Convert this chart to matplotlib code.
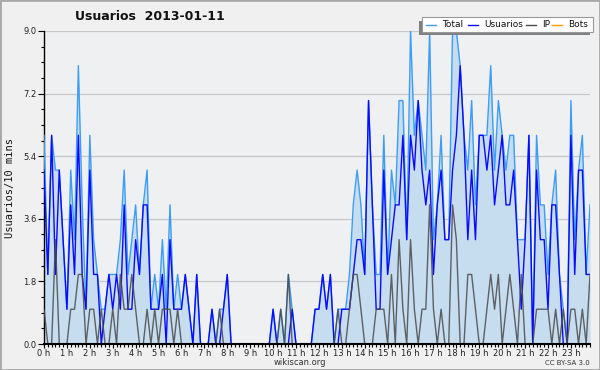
import matplotlib
matplotlib.use("Agg")
import matplotlib.pyplot as plt
from matplotlib.ticker import MultipleLocator, FixedLocator
from matplotlib.patches import Rectangle
from matplotlib.lines import Line2D
import numpy as np

# 10-minute slots over the day (144 points)
total = [6,2,6,5,5,3,1,5,3,8,4,1,
         6,3,2,1,1,2,2,2,3,5,2,3,
         4,2,4,5,1,2,1,3,1,4,1,2,
         1,2,1,0,2,0,0,0,1,0,1,1,
         2,0,0,0,0,0,0,0,0,0,0,0,
         1,0,1,0,2,1,0,0,0,0,0,1,
         1,2,1,2,0,1,1,1,2,4,5,4,
         2,7,4,2,2,6,2,5,4,7,7,3,
         9,6,7,6,5,9,3,4,6,3,3,9,
         9,8,6,5,7,4,6,6,6,8,5,7,
         6,5,6,6,3,3,3,6,0,6,4,4,
         2,4,5,2,1,0,7,3,5,6,2,4]
usuarios = [5,2,6,2,5,3,1,4,2,6,2,1,
            5,2,2,0,1,2,1,2,1,4,1,1,
            3,2,4,4,1,1,1,2,0,3,1,1,
            1,2,1,0,2,0,0,0,1,0,0,1,
            2,0,0,0,0,0,0,0,0,0,0,0,
            1,0,0,0,0,1,0,0,0,0,0,1,
            1,2,1,2,0,0,1,1,1,2,3,3,
            2,7,4,1,1,5,2,3,4,4,6,3,
            6,5,7,5,4,5,2,4,5,3,3,5,
            6,8,6,3,5,3,6,6,5,6,4,5,
            6,4,4,5,3,1,3,6,0,5,3,3,
            1,4,4,2,0,0,6,2,5,5,2,2]
ip = [1,0,0,3,0,0,0,1,1,2,2,0,
      1,1,0,1,0,0,1,0,2,1,1,2,
      1,0,0,1,0,1,0,1,1,1,0,1,
      0,0,0,0,0,0,0,0,0,0,1,0,
      0,0,0,0,0,0,0,0,0,0,0,0,
      0,0,1,0,2,0,0,0,0,0,0,0,
      0,0,0,0,0,1,0,0,1,2,2,1,
      0,0,0,1,1,1,0,2,0,3,1,0,
      3,1,0,1,1,4,1,0,1,0,0,4,
      3,0,0,2,2,1,0,0,1,2,1,2,
      0,1,2,1,0,2,0,0,0,1,1,1,
      1,0,1,0,1,0,1,1,0,1,0,2]
bots = [0] * 144
hours = np.arange(144) / 6.0

y_ticks = [0.0, 1.8, 3.6, 5.4, 7.2, 9.0]
x_ticks = list(range(24))
x_labels = [f"{h} h" for h in x_ticks]
legend_labels = ["Total", "Usuarios", "IP", "Bots"]

W, H = 600, 370
fig = plt.figure(figsize=(W / 100, H / 100), dpi=100, facecolor="#f0f0f0")

def fx(px):
    return px / W

def fy(py):
    return 1 - py / H

ax = fig.add_axes([fx(44), fy(344), fx(590) - fx(44), fy(31) - fy(344)])
ax.set_facecolor("#eef0f2")

c_total = "#3d9df5"
c_usr = "#0a0aff"
c_ip = "#4a4a4a"
c_bots = "#ff9900"

ax.fill_between(hours, total, 0, color="#c6dcef", lw=0, zorder=1)
ax.plot(hours, total, color=c_total, lw=1.0, zorder=3)
ax.plot(hours, usuarios, color=c_usr, lw=1.0, zorder=4)
ax.plot(hours, ip, color=c_ip, lw=1.0, zorder=5, alpha=0.85)
ax.plot(hours, bots, color=c_bots, lw=1.0, zorder=2)

ax.set_xlim(0, 143 / 6)
ax.set_ylim(0, 9.0)

ax.yaxis.set_major_locator(FixedLocator(y_ticks))
ax.set_yticklabels([f"{v:.1f}" for v in y_ticks])
ax.yaxis.set_minor_locator(MultipleLocator(0.45))
ax.xaxis.set_major_locator(FixedLocator(x_ticks))
ax.set_xticklabels(x_labels)
ax.xaxis.set_minor_locator(MultipleLocator(1 / 6))

ax.grid(axis="y", which="major", color="#c8c8c8", lw=0.9, zorder=0)
ax.set_axisbelow(True)

for s in ["top", "right"]:
    ax.spines[s].set_visible(False)
ax.spines["left"].set_color("black")
ax.spines["bottom"].set_color("black")
ax.spines["left"].set_linewidth(1.0)
ax.spines["bottom"].set_linewidth(1.5)
ax.spines["bottom"].set_zorder(6)

ax.tick_params(axis="y", which="major", labelsize=6, length=4, width=0.8,
               colors="black", pad=1.5)
ax.tick_params(axis="x", which="major", labelsize=6, length=3, width=0.8,
               colors="black", pad=0.5)
ax.tick_params(axis="both", which="minor", length=2.5, width=0.8, colors="black")
for lab in ax.get_xticklabels() + ax.get_yticklabels():
    lab.set_color("#222222")

fig.text(fx(10), (fy(31) + fy(344)) / 2, "Usuarios/10 mins", rotation=90,
         ha="center", va="center", family="DejaVu Sans Mono", fontsize=7.5,
         color="#111111")

fig.text(fx(150), fy(16), "Usuarios  2013-01-11", ha="center", va="center",
         fontsize=9, fontweight="bold", color="#111111")

fig.text(fx(300), fy(362.5), "wikiscan.org", ha="center", va="center",
         fontsize=6, color="#333333")
fig.text(fx(590), fy(363), "CC BY-SA 3.0", ha="right", va="center",
         fontsize=5, color="#333333")

# legend (manual, with shadow)
fig.patches.append(Rectangle((fx(419), fy(35)), fx(590) - fx(419), fy(21) - fy(35),
                             transform=fig.transFigure, facecolor="#808080",
                             edgecolor="none", zorder=10))
fig.patches.append(Rectangle((fx(422), fy(32)), fx(593) - fx(422), fy(17) - fy(32),
                             transform=fig.transFigure, facecolor="white",
                             edgecolor="#999999", lw=0.8, zorder=11))
leg_items = [(c_total, 426, 442), (c_usr, 468, 484), (c_ip, 526, 542), (c_bots, 552, 568)]
for (col, lx, tx), lab in zip(leg_items, legend_labels):
    fig.lines.append(Line2D([fx(lx), fx(lx + 10)], [fy(24.5), fy(24.5)],
                            transform=fig.transFigure, color=col, lw=1.0, zorder=12))
    fig.text(fx(tx), fy(24.5), lab, ha="left", va="center", fontsize=6.5,
             color="#111111", zorder=12)

fig.patches.append(Rectangle((0, 0), 1, 1, transform=fig.transFigure,
                             fill=False, edgecolor="#a8a8a8", lw=2, zorder=20))

fig.savefig("out.png", dpi=100, facecolor=fig.get_facecolor())
